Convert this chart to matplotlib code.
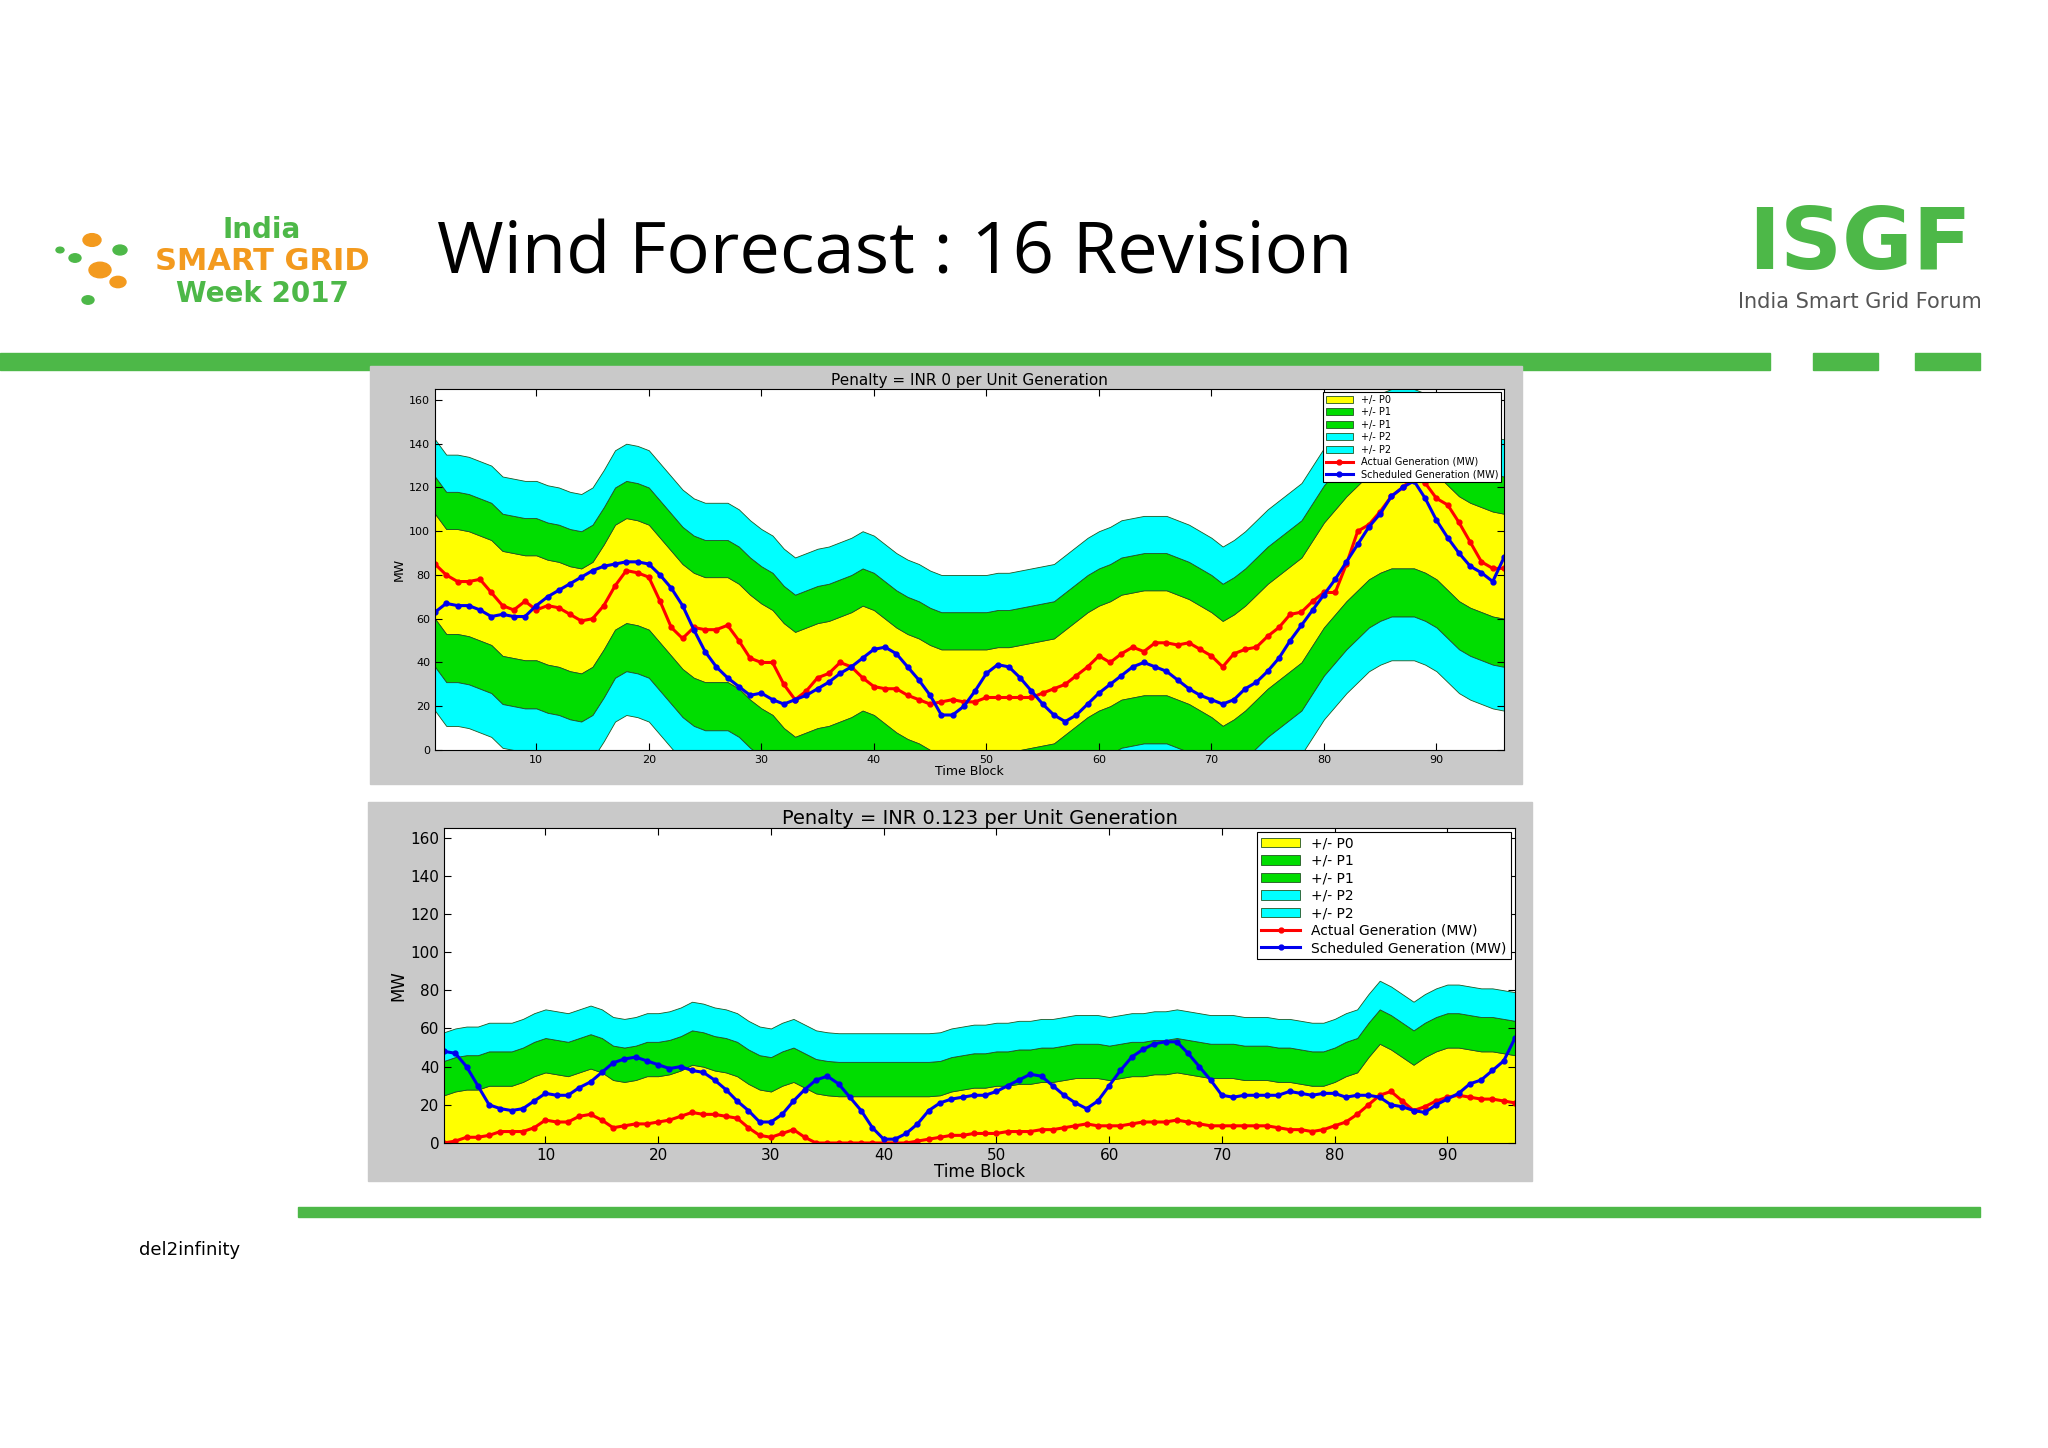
import numpy as np
import matplotlib.pyplot as plt
from matplotlib.patches import Rectangle

blocks = np.arange(1, 97)

# top chart (penalty 0): upper edge of outer band, actual, scheduled
top_env = [142, 135, 135, 134, 132, 130, 125, 124, 123, 123, 121, 120, 118, 117, 120, 128,
           137, 140, 139, 137, 131, 125, 119, 115, 113, 113, 113, 110, 105, 101, 98, 92,
           88, 90, 92, 93, 95, 97, 100, 98, 94, 90, 87, 85, 82, 80, 80, 80,
           80, 80, 81, 81, 82, 83, 84, 85, 89, 93, 97, 100, 102, 105, 106, 107,
           107, 107, 105, 103, 100, 97, 93, 96, 100, 105, 110, 114, 118, 122, 130, 138,
           144, 150, 155, 160, 163, 165, 165, 165, 163, 160, 155, 150, 147, 145, 143, 142]
top_actual = [85, 80, 77, 77, 78, 72, 66, 64, 68, 64, 66, 65, 62, 59, 60, 66,
              75, 82, 81, 79, 68, 56, 51, 56, 55, 55, 57, 50, 42, 40, 40, 30,
              23, 27, 33, 35, 40, 38, 33, 29, 28, 28, 25, 23, 21, 22, 23, 22,
              22, 24, 24, 24, 24, 24, 26, 28, 30, 34, 38, 43, 40, 44, 47, 45,
              49, 49, 48, 49, 46, 43, 38, 44, 46, 47, 52, 56, 62, 63, 68, 72,
              72, 85, 100, 103, 109, 116, 120, 125, 122, 115, 112, 104, 95, 86, 83, 83]
top_sched = [63, 67, 66, 66, 64, 61, 62, 61, 61, 66, 70, 73, 76, 79, 82, 84,
             85, 86, 86, 85, 80, 74, 66, 55, 45, 38, 33, 29, 25, 26, 23, 21,
             23, 25, 28, 31, 35, 38, 42, 46, 47, 44, 38, 32, 25, 16, 16, 20,
             27, 35, 39, 38, 33, 27, 21, 16, 13, 16, 21, 26, 30, 34, 38, 40,
             38, 36, 32, 28, 25, 23, 21, 23, 28, 31, 36, 42, 50, 57, 64, 71,
             78, 86, 94, 102, 108, 116, 120, 123, 115, 105, 97, 90, 84, 81, 77, 88]
top_up = [24, 41, 58]    # P0, P1, P2 above centre
top_down = [24, 46, 66]  # P0, P1, P2 below centre

# bottom chart (penalty 0.123)
bot_env = [58, 60, 61, 61, 63, 63, 63, 65, 68, 70, 69, 68, 70, 72, 70, 66,
           65, 66, 68, 68, 69, 71, 74, 73, 71, 70, 68, 64, 61, 60, 63, 65,
           62, 59, 58, 57.5, 57.5, 57.5, 57.5, 57.5, 57.5, 57.5, 57.5, 57.5, 58, 60,
           61, 62, 62, 63, 63, 64, 64, 65, 65, 66, 67, 67, 67, 66, 67, 68,
           68, 69, 69, 70, 69, 68, 67, 67, 67, 66, 66, 66, 65, 65, 64, 63,
           63, 65, 68, 70, 78, 85, 82, 78, 74, 78, 81, 83, 83, 82, 81, 81, 80, 79]
bot_actual = [0, 1, 3, 3, 4, 6, 6, 6, 8, 12, 11, 11, 14, 15, 12, 8,
              9, 10, 10, 11, 12, 14, 16, 15, 15, 14, 13, 8, 4, 3, 5, 7,
              3, 0, 0, 0, 0, 0, 0, 0, 0, 0, 1, 2, 3, 4, 4, 5,
              5, 5, 6, 6, 6, 7, 7, 8, 9, 10, 9, 9, 9, 10, 11, 11,
              11, 12, 11, 10, 9, 9, 9, 9, 9, 9, 8, 7, 7, 6, 7, 9,
              11, 15, 20, 25, 27, 22, 17, 19, 22, 24, 25, 24, 23, 23, 22, 21]
bot_sched = [48, 47, 40, 30, 20, 18, 17, 18, 22, 26, 25, 25, 29, 32, 37, 42,
             44, 45, 43, 41, 39, 40, 38, 37, 33, 28, 22, 17, 11, 11, 15, 22,
             28, 33, 35, 31, 24, 17, 8, 2, 2, 5, 10, 17, 21, 23, 24, 25,
             25, 27, 30, 33, 36, 35, 30, 25, 21, 18, 22, 30, 38, 45, 49, 52,
             53, 53, 47, 40, 33, 25, 24, 25, 25, 25, 25, 27, 26, 25, 26, 26,
             24, 25, 25, 24, 20, 19, 17, 16, 20, 23, 26, 31, 33, 38, 43, 55]
bot_up = [22, 40, 55]
bot_down = [40, 60, 75]

YELLOW = '#ffff00'
GREEN = '#00dd00'
CYAN = '#00ffff'
GRAY = '#c9c9c9'


def draw_panel(ax, env, actual, sched, up, down, title, fs):
    env = np.array(env, dtype=float)
    c = env - up[2]
    edge = dict(edgecolor='#225522', linewidth=0.6)
    ax.fill_between(blocks, c - down[0], c + up[0], facecolor=YELLOW, label='+/- P0', **edge)
    ax.fill_between(blocks, c + up[0], c + up[1], facecolor=GREEN, label='+/- P1', **edge)
    ax.fill_between(blocks, c - down[1], c - down[0], facecolor=GREEN, label='+/- P1', **edge)
    ax.fill_between(blocks, c + up[1], c + up[2], facecolor=CYAN, label='+/- P2', **edge)
    ax.fill_between(blocks, c - down[2], c - down[1], facecolor=CYAN, label='+/- P2', **edge)
    ax.plot(blocks, actual, color='red', lw=2.2, marker='o', ms=3.5,
            label='Actual Generation (MW)')
    ax.plot(blocks, sched, color='#0000ee', lw=2.2, marker='o', ms=3.5,
            label='Scheduled Generation (MW)')
    ax.set_xlim(1, 96)
    ax.set_ylim(0, 165)
    ax.set_xticks(range(10, 100, 10))
    ax.set_yticks(range(0, 161, 20))
    ax.tick_params(labelsize=fs, direction='in', length=5, top=True, right=True)
    ax.set_xlabel('Time Block', fontsize=fs + 1, labelpad=0)
    ax.set_ylabel('MW', fontsize=fs + 1, labelpad=2)
    ax.set_title(title, fontsize=fs + 3, pad=3)
    leg = ax.legend(loc='upper right', fontsize=fs - 1, fancybox=False, framealpha=1,
                    edgecolor='black', borderaxespad=0.3, handlelength=2.8,
                    labelspacing=0.25, borderpad=0.3)
    leg.get_frame().set_linewidth(0.8)


W, H = 2048, 1448
fig = plt.figure(figsize=(W / 100, H / 100), dpi=100)
fig.patch.set_facecolor('white')


def box(x0, y0, x1, y1, color):
    fig.patches.append(Rectangle((x0 / W, 1 - y1 / H), (x1 - x0) / W, (y1 - y0) / H,
                                 transform=fig.transFigure, color=color, zorder=-5))


# slide decorations
box(0, 353, 1770, 370, '#4db848')
box(1813, 353, 1878, 370, '#4db848')
box(1915, 353, 1980, 370, '#4db848')
box(298, 1207, 1980, 1217, '#4db848')
box(370, 366, 1522, 784, GRAY)
box(368, 802, 1532, 1181, GRAY)

fig.text(437 / W, 1 - 255 / H, 'Wind Forecast : 16 Revision', fontsize=52,
         va='center', ha='left', family='Open Sans', color='black')
fig.text(262 / W, 1 - 230 / H, 'India', fontsize=20, ha='center', va='center',
         color='#4db848', weight='bold')
fig.text(262 / W, 1 - 262 / H, 'SMART GRID', fontsize=22, ha='center', va='center',
         color='#f39a1e', weight='bold')
fig.text(262 / W, 1 - 294 / H, 'Week 2017', fontsize=20, ha='center', va='center',
         color='#4db848', weight='bold')
fig.text(1860 / W, 1 - 245 / H, 'ISGF', fontsize=62, ha='center', va='center',
         color='#4db848', weight='bold')
fig.text(1860 / W, 1 - 302 / H, 'India Smart Grid Forum', fontsize=15, ha='center',
         va='center', color='#555555')
for (x, y, r, col) in [(75, 258, 6, '#4db848'), (92, 240, 9, '#f39a1e'),
                       (100, 270, 11, '#f39a1e'), (120, 250, 7, '#4db848'),
                       (118, 282, 8, '#f39a1e'), (88, 300, 6, '#4db848'),
                       (60, 250, 4, '#4db848')]:
    fig.patches.append(plt.Circle((x / W, 1 - y / H), r / W, transform=fig.transFigure,
                                  color=col, zorder=-5))
fig.text(190 / W, 1 - 1250 / H, 'del2infinity', fontsize=13, ha='center', va='center')


def axes_at(x0, y0, x1, y1):
    return fig.add_axes([x0 / W, 1 - y1 / H, (x1 - x0) / W, (y1 - y0) / H])


ax1 = axes_at(435, 389, 1504, 750)
draw_panel(ax1, top_env, top_actual, top_sched, top_up, top_down,
           'Penalty = INR 0 per Unit Generation', 8)
ax2 = axes_at(444, 828, 1515, 1143)
draw_panel(ax2, bot_env, bot_actual, bot_sched, bot_up, bot_down,
           'Penalty = INR 0.123 per Unit Generation', 11)

fig.savefig('out.png', dpi=100)
